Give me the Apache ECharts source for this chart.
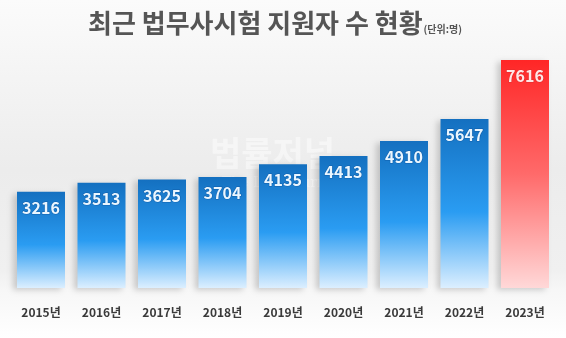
<!DOCTYPE html>
<html><head><meta charset="utf-8">
<script src="https://cdn.jsdelivr.net/npm/echarts@6/dist/echarts.min.js"></script>
<style>html,body{margin:0;padding:0;background:#fff}#c{width:566px;height:338px}</style>
</head><body><div id="c"></div>
<script>
const categories = ['2015년','2016년','2017년','2018년','2019년','2020년','2021년','2022년','2023년'];
const applicants = [3216,3513,3625,3704,4135,4413,4910,5647,7616];
const highlightIndex = 8;

const blueGrad = new echarts.graphic.LinearGradient(0,0,0,1,[
  {offset:0,color:'#1470c0'},{offset:0.55,color:'#2a9cf2'},{offset:1,color:'#dcefff'}]);
const redGrad = new echarts.graphic.LinearGradient(0,0,0,1,[
  {offset:0,color:'#ff2626'},{offset:0.5,color:'#ff6a6a'},{offset:1,color:'#ffd8d8'}]);

const chart = echarts.init(document.getElementById('c'));
chart.setOption({
  animation:false,
  backgroundColor: new echarts.graphic.LinearGradient(0,0,0,1,[
    {offset:0,color:'#fbfbfb'},{offset:0.5,color:'#ececec'},{offset:0.8,color:'#f0f0f0'},{offset:0.86,color:'#f7f7f7'},{offset:1,color:'#ffffff'}]),
  title:{
    text:'최근 법무사시험 지원자 수 현황{u|(단위:명)}',
    left:83, top:5,
    textStyle:{fontFamily:'Noto Sans CJK KR',fontSize:26,fontWeight:'bold',color:'#555555',
      rich:{u:{fontFamily:'Noto Sans CJK KR',fontSize:10,color:'#555555',padding:[13,0,0,1]}}}
  },
  graphic:[
    {type:'text',left:210,top:136,silent:true,style:{text:'법률저널',font:'bold 34px "Noto Sans CJK KR"',fill:'rgba(255,255,255,0.45)'}},
    {type:'text',left:222,top:176,silent:true,style:{text:'The Law Journal',font:'14px "DejaVu Serif"',fill:'rgba(255,255,255,0.45)'}}
  ],
  grid:{left:10.75,right:10.75,top:60,bottom:50},
  xAxis:{type:'category',data:categories,
    axisLine:{show:false},axisTick:{show:false},
    axisLabel:{margin:18,fontFamily:'Noto Sans CJK KR',fontSize:12,fontWeight:'bold',color:'#3a3a3a'}},
  yAxis:{type:'value',min:0,max:7616,show:false,splitLine:{show:false}},
  series:[{
    type:'bar',barWidth:48,
    data:applicants.map((v,i)=>({value:v,itemStyle:{color:i===highlightIndex?redGrad:blueGrad},
      label:{color:i===highlightIndex?'#ffe6e6':'#eaf6ff',textBorderColor:i===highlightIndex?'rgba(200,40,40,0.5)':'rgba(10,70,140,0.5)'}})),
    itemStyle:{shadowColor:'rgba(0,0,0,0.18)',shadowBlur:6,shadowOffsetX:-4,shadowOffsetY:2},
    label:{show:true,position:'insideTop',distance:8,fontFamily:'Noto Sans CJK KR',fontSize:16,fontWeight:'bold',textBorderWidth:1}
  }]
});
</script></body></html>
